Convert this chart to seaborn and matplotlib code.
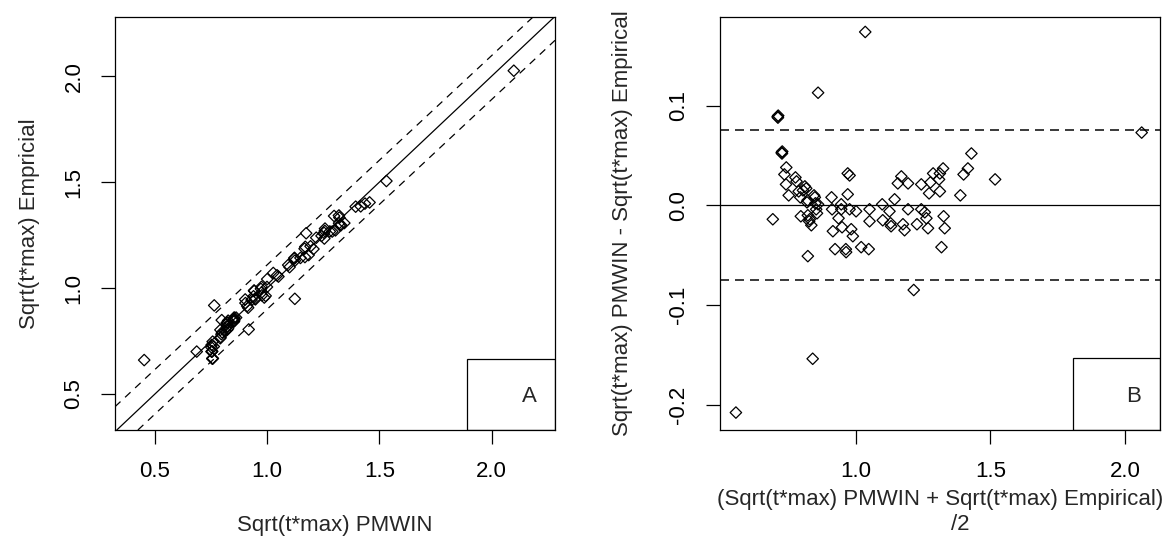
import numpy as np
import pandas as pd
import matplotlib
matplotlib.use("Agg")
import matplotlib.pyplot as plt
import seaborn as sns
from matplotlib.patches import Rectangle

# Bland-Altman readings: mean of the two methods and their difference (PMWIN - Empirical)
mean_vals = [0.556, 0.693, 0.711, 0.713, 0.712, 0.726, 0.728, 0.727, 0.736, 0.743,
             0.742, 0.752, 0.777, 0.781, 0.789, 0.795, 0.797, 0.805, 0.812, 0.817,
             0.820, 0.823, 0.822, 0.828, 0.830, 0.836, 0.823, 0.841, 0.846, 0.849,
             0.851, 0.854, 0.857, 0.861, 0.861, 0.911, 0.913, 0.916, 0.924, 0.937,
             0.947, 0.947, 0.950, 0.964, 0.965, 0.971, 0.971, 0.978, 0.978, 0.984,
             0.990, 1.002, 1.021, 1.036, 1.049, 1.052, 1.052, 1.099, 1.101, 1.126,
             1.130, 1.132, 1.145, 1.157, 1.170, 1.176, 1.182, 1.195, 1.195, 1.216,
             1.228, 1.244, 1.244, 1.257, 1.263, 1.269, 1.273, 1.278, 1.288, 1.310,
             1.313, 1.313, 1.325, 1.327, 1.331, 1.319, 1.389, 1.401, 1.417, 1.430,
             1.518, 2.062]
diff_vals = [-0.208, -0.014, 0.089, 0.090, 0.088, 0.053, 0.054, 0.052, 0.031, 0.038,
             0.021, 0.010, 0.028, 0.024, 0.014, 0.008, -0.011, 0.015, 0.019, 0.017,
             0.003, -0.010, 0.005, -0.016, -0.014, -0.020, -0.051, -0.154, 0.010, 0.008,
             0.002, -0.004, -0.008, 0.001, 0.113, 0.008, -0.004, -0.026, -0.044, -0.013,
             0.001, -0.004, -0.022, -0.044, -0.047, 0.011, 0.032, 0.030, -0.004, -0.024,
             -0.031, -0.006, -0.042, 0.174, -0.044, -0.016, -0.004, 0.001, -0.015, -0.006,
             -0.018, -0.021, 0.006, 0.022, 0.029, -0.019, -0.025, 0.022, -0.004, -0.085,
             -0.019, 0.021, -0.004, -0.007, -0.013, -0.023, 0.012, 0.023, 0.032, 0.026,
             0.014, 0.032, 0.037, -0.011, -0.023, -0.042, 0.010, 0.031, 0.037, 0.052,
             0.026, 0.073]

# reference lines
ba_limits = [0.0752, -0.0746]          # dashed limits in panel B
ba_center = 0.0                         # solid line in panel B
upper_band = [(0.319, 0.437), (2.174, 2.269)]   # dashed band lines in panel A
lower_band = [(0.424, 0.330), (2.271, 2.158)]

a_ticks = [0.5, 1.0, 1.5, 2.0]
a_ticklabels = ["0.5", "1.0", "1.5", "2.0"]
bx_ticks = [1.0, 1.5, 2.0]
bx_ticklabels = ["1.0", "1.5", "2.0"]
by_ticks = [-0.2, -0.1, 0.0, 0.1]
by_ticklabels = ["-0.2", "-0.1", "0.0", "0.1"]

df = pd.DataFrame({"mean": mean_vals, "diff": diff_vals})
df["pmwin"] = df["mean"] + df["diff"] / 2
df["empirical"] = df["mean"] - df["diff"] / 2

sns.set_theme(style="white")
plt.rcParams['font.family'] = ['Liberation Sans', 'DejaVu Sans']
FS = 16
LW = 0.9

fig = plt.figure(figsize=(11.71, 5.39), dpi=100)
W, H = 1171, 539
axA = fig.add_axes([115 / W, 109 / H, 440 / W, 413 / H])
axB = fig.add_axes([720 / W, 109 / H, 440 / W, 413 / H])

mk = dict(marker="D", s=34, color="black", facecolor="none", edgecolor="black",
          linewidth=0.9, legend=False, zorder=3)

# ---- Panel A ----
sns.scatterplot(data=df, x="pmwin", y="empirical", ax=axA, **mk)
axA.axline((0, 0), slope=1, color="black", lw=LW)
for band in (upper_band, lower_band):
    axA.axline(band[0], band[1], color="black", lw=LW, linestyle=(0, (6, 5)))
axA.set_xlim(0.322, 2.282)
axA.set_ylim(0.330, 2.279)
axA.set_xticks(a_ticks, a_ticklabels)
axA.set_yticks(a_ticks, a_ticklabels)
axA.set_xlabel("Sqrt(t*max) PMWIN", fontsize=FS)
axA.set_ylabel("Sqrt(t*max) Empricial", fontsize=FS)
axA.xaxis.set_label_coords(0.5, -0.232)
axA.xaxis.label.set_va("center")
axA.yaxis.set_label_coords(-0.195, 0.5)
axA.yaxis.label.set_va("center")
axA.add_patch(Rectangle((0.80, 0.0), 0.20, 0.172, transform=axA.transAxes,
                        fill=False, edgecolor="black", lw=LW, zorder=4))
axA.text(0.941, 0.081, "A", transform=axA.transAxes, fontsize=FS,
         ha="center", va="center")

# ---- Panel B ----
sns.scatterplot(data=df, x="mean", y="diff", ax=axB, **mk)
axB.axhline(ba_center, color="black", lw=LW)
for lim in ba_limits:
    axB.axhline(lim, color="black", lw=LW * 1.2, linestyle=(0, (6, 4)))
axB.set_xlim(0.497, 2.130)
axB.set_ylim(-0.2255, 0.189)
axB.set_xticks(bx_ticks, bx_ticklabels)
axB.set_yticks(by_ticks, by_ticklabels)
axB.set_xlabel("(Sqrt(t*max) PMWIN + Sqrt(t*max) Empirical)", fontsize=FS)
axB.xaxis.set_label_coords(0.5, -0.168)
axB.xaxis.label.set_va("center")
axB.text(0.545, -0.228, "/2", transform=axB.transAxes, fontsize=FS,
         ha="center", va="center")
axB.set_ylabel("Sqrt(t*max) PMWIN - Sqrt(t*max) Empirical", fontsize=FS)
axB.yaxis.set_label_coords(-0.2205, 0.5)
axB.yaxis.label.set_va("center")
axB.add_patch(Rectangle((0.803, 0.0), 0.197, 0.174, transform=axB.transAxes,
                        fill=False, edgecolor="black", lw=LW, zorder=4))
axB.text(0.939, 0.082, "B", transform=axB.transAxes, fontsize=FS,
         ha="center", va="center")

for ax in (axA, axB):
    for sp in ax.spines.values():
        sp.set_visible(True)
        sp.set_color("black")
        sp.set_linewidth(LW)
    ax.tick_params(axis="both", which="major", direction="out", length=10,
                   width=LW, color="black", labelsize=FS, pad=12,
                   bottom=True, left=True, labelcolor="black")
    for lab in ax.get_yticklabels():
        lab.set_rotation(90)
        lab.set_va("center")
    ax.set_facecolor("white")
    ax.grid(False)

fig.patch.set_facecolor("white")
fig.savefig("out.png", dpi=100, facecolor="white")
